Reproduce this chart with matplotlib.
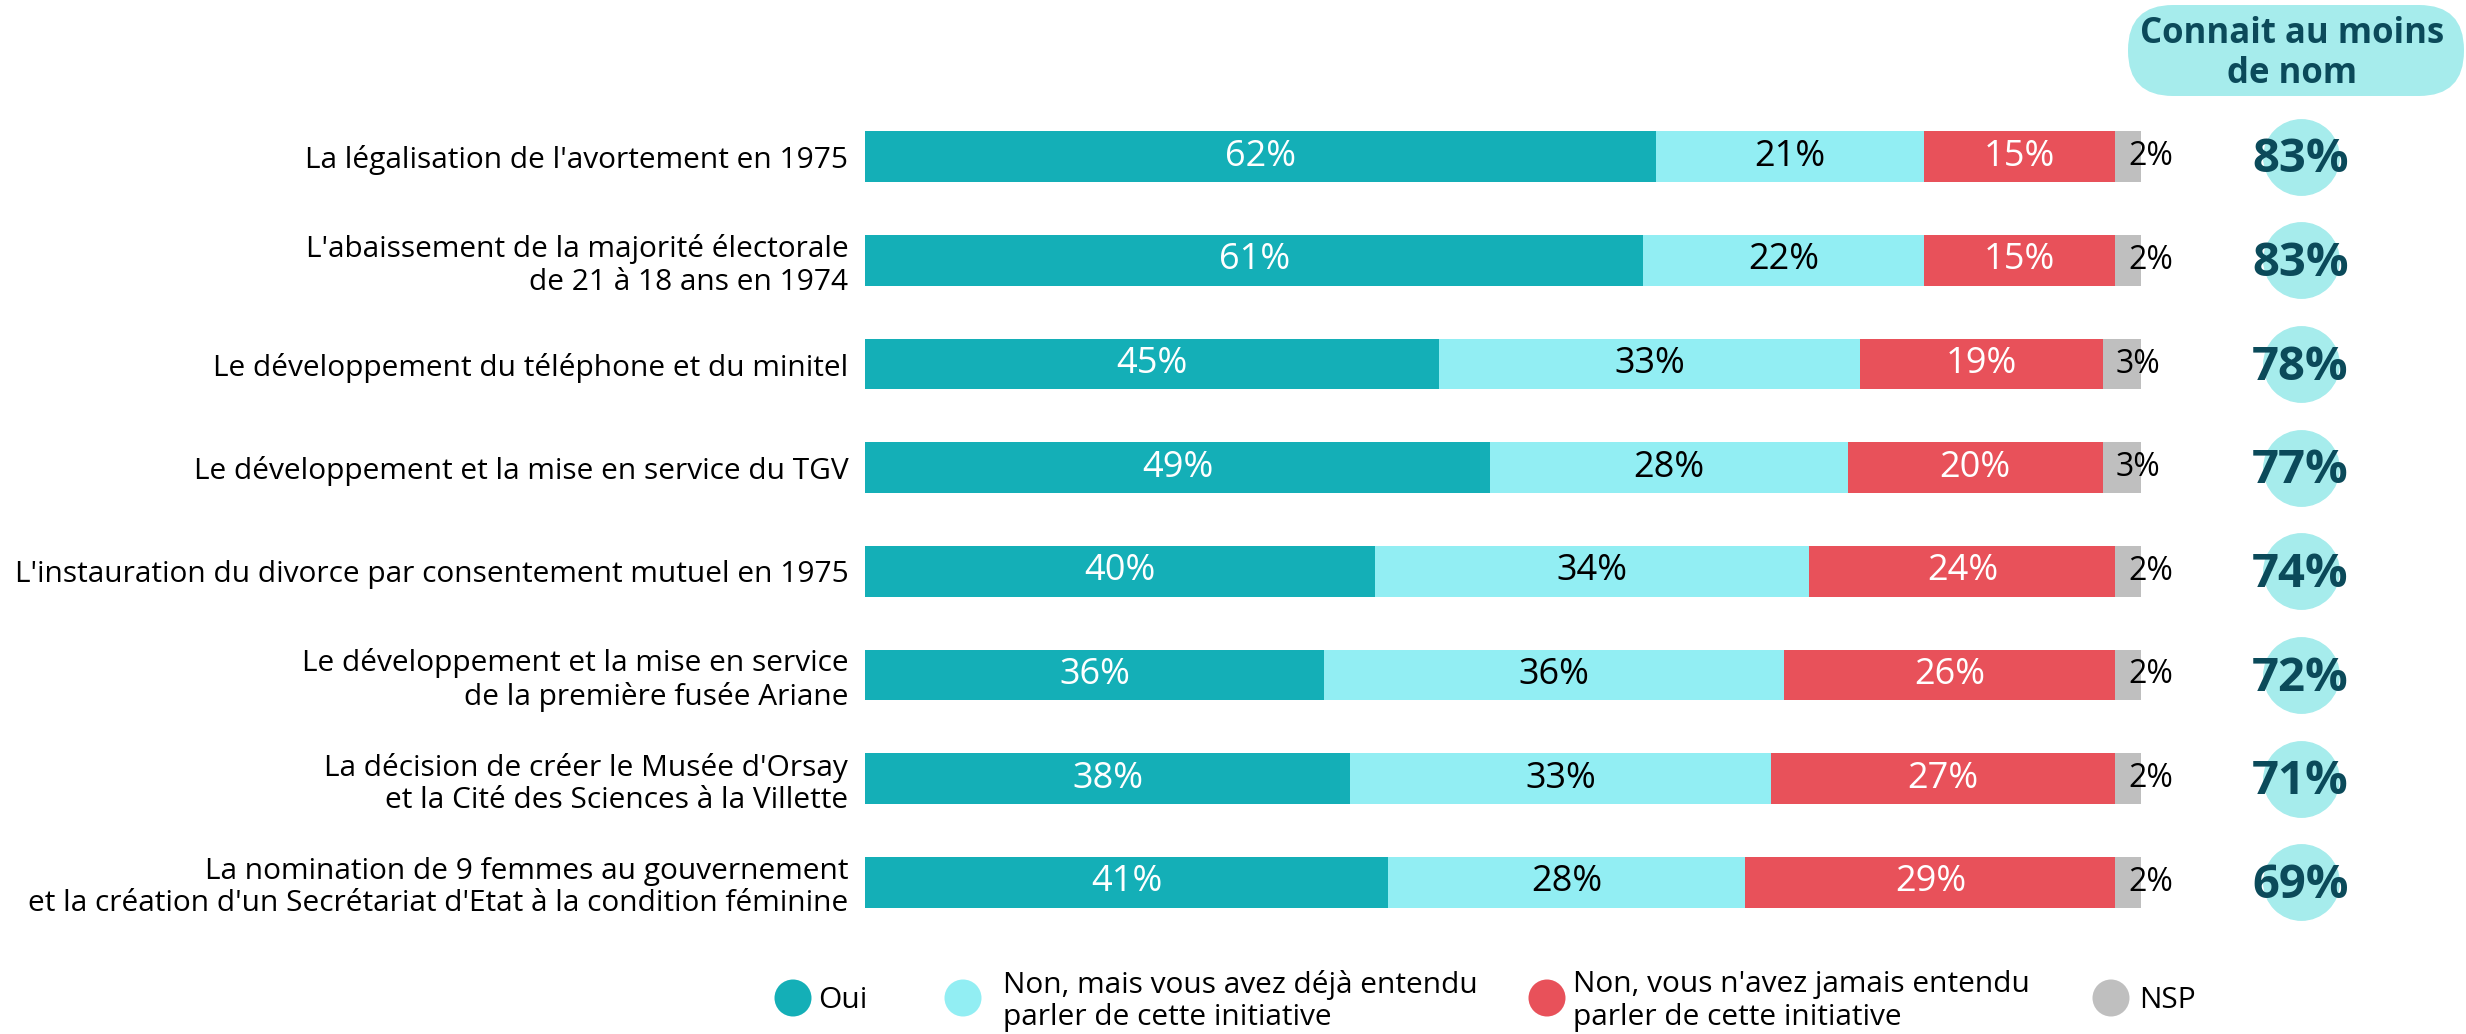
import numpy as np
import matplotlib.pyplot as plt
from matplotlib.patches import FancyBboxPatch, Circle

plt.rcParams['font.family'] = ['Open Sans', 'DejaVu Sans']

labels = [
    "La légalisation de l'avortement en 1975",
    "L'abaissement de la majorité électorale\nde 21 à 18 ans en 1974",
    "Le développement du téléphone et du minitel",
    "Le développement et la mise en service du TGV",
    "L'instauration du divorce par consentement mutuel en 1975",
    "Le développement et la mise en service\nde la première fusée Ariane",
    "La décision de créer le Musée d'Orsay\net la Cité des Sciences à la Villette",
    "La nomination de 9 femmes au gouvernement\net la création d'un Secrétariat d'Etat à la condition féminine",
]
oui = [62, 61, 45, 49, 40, 36, 38, 41]
non_entendu = [21, 22, 33, 28, 34, 36, 33, 28]
non_jamais = [15, 15, 19, 20, 24, 26, 27, 29]
nsp = [2, 2, 3, 3, 2, 2, 2, 2]
connait = [83, 83, 78, 77, 74, 72, 71, 69]

series_names = ["Oui", "Non, mais vous avez déjà entendu\nparler de cette initiative",
                "Non, vous n'avez jamais entendu\nparler de cette initiative", "NSP"]
colors = ["#14AFB7", "#92EEF3", "#E8515A", "#BFBFBF"]
text_colors = ["white", "black", "white", "black"]
dark = "#0B4A5A"
light = "#A6ECEC"

W, H = 2466, 1034
fig = plt.figure(figsize=(W / 100, H / 100), dpi=100)
ax = fig.add_axes([865 / W, 1 - 934 / H, (2141 - 865) / W, 829 / H])

y = np.arange(len(labels))
left = np.zeros(len(labels))
for i, vals in enumerate([oui, non_entendu, non_jamais, nsp]):
    vals = np.array(vals)
    ax.barh(y, vals, left=left, height=0.49, color=colors[i])
    for yy, l, v in zip(y, left, vals):
        if i == 3:
            ax.text(l + 1.0, yy, f"{v}%", ha='left', va='center',
                    fontsize=23, color=text_colors[i], clip_on=False)
        else:
            ax.text(l + v / 2, yy, f"{v}%", ha='center', va='center',
                    fontsize=26, color=text_colors[i])
    left += vals

# colonne "connait au moins de nom"
ax.scatter([112.5] * len(y), y, s=2950, color=light, clip_on=False, zorder=3)
for yy, v in zip(y, connait):
    ax.text(112.5, yy + 0.03, f"{v}%", ha='center', va='center', fontsize=34,
            fontweight='bold', color=dark, zorder=4, clip_on=False)

ax.set_xlim(0, 100)
ax.set_ylim(len(y) - 0.5, -0.5)
ax.set_yticks(y, labels, fontsize=21.5, linespacing=1.15)
ax.tick_params(axis='y', length=0, pad=12)
ax.set_xticks([])
for s in ax.spines.values():
    s.set_visible(False)

# en-tête
pill = FancyBboxPatch((21.28, 10.34 - 0.96), 3.36, 0.91,
                      boxstyle="round,pad=0,rounding_size=0.45",
                      transform=fig.dpi_scale_trans, color=light, lw=0)
fig.add_artist(pill)
fig.text(2292 / W, 1 - 54 / H, "Connait au moins\nde nom", ha='center', va='center',
         fontsize=25, fontweight='bold', color=dark, linespacing=1.12)

# légende
leg_x = [793, 963, 1547, 2111]
txt_x = [818, 1003, 1573, 2139]
for mx, tx, c, name in zip(leg_x, txt_x, colors, series_names):
    fig.add_artist(Circle((mx / 100, 10.34 - 9.98), 0.185,
                          transform=fig.dpi_scale_trans, color=c, lw=0))
    fig.text(tx / W, 1 - 1001 / H, name, ha='left', va='center',
             fontsize=21.5, linespacing=1.15)

fig.savefig("out.png", dpi=100)
